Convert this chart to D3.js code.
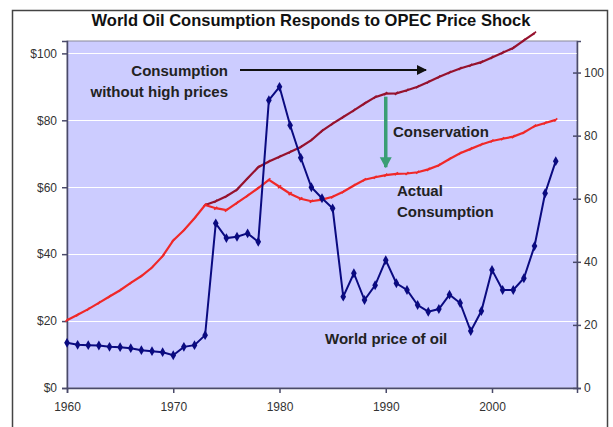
<!DOCTYPE html>
<html>
<head>
<meta charset="utf-8">
<script src="https://cdn.jsdelivr.net/npm/d3@7"></script>
<style>
    body { margin: 0; background: #fff; }
    svg { display: block; font-family: Arial, "Liberation Sans", sans-serif; }
</style>
</head>
<body>
<svg id="chart" width="613" height="427"></svg>
<script>
// world oil price, $ per barrel (left axis)
var priceYears = d3.range(1960, 2007);
var price = [13.5, 12.9, 12.8, 12.7, 12.3, 12.2, 11.9, 11.3, 11.0, 10.7,
    9.8, 12.3, 12.8, 15.8, 49.2, 44.8, 45.2, 46.2, 43.7, 86.0,
    90.0, 78.5, 68.8, 60.0, 56.7, 53.7, 27.3, 34.3, 26.3, 30.7,
    38.2, 31.3, 29.3, 24.8, 22.8, 23.6, 27.9, 25.4, 17.0, 23.0,
    35.3, 29.3, 29.3, 32.8, 42.4, 58.2, 67.8];

// actual consumption, million barrels/day (right axis)
var actualYears = d3.range(1960, 2007);
var actual = [21.5, 23.2, 25.0, 27.0, 29.0, 31.0, 33.3, 35.5, 38.2, 41.8,
    46.8, 50.0, 53.8, 58.0, 57.0, 56.4, 58.7, 61.0, 63.4, 66.0,
    63.8, 61.6, 60.0, 59.2, 59.7, 60.6, 62.2, 64.2, 66.0, 66.8,
    67.5, 67.9, 68.0, 68.4, 69.3, 70.6, 72.6, 74.4, 75.8, 77.2,
    78.3, 79.0, 79.7, 81.0, 83.0, 84.0, 85.0];

// consumption without high prices (right axis)
var noShockYears = d3.range(1973, 2005);
var noShock = [58.0, 59.2, 60.8, 62.9, 66.5, 70.0, 71.8, 73.3, 74.8, 76.4,
    78.6, 81.5, 83.8, 85.9, 88.0, 90.2, 92.2, 93.3, 93.4, 94.4,
    95.5, 97.0, 98.6, 100.0, 101.3, 102.3, 103.3, 104.8, 106.3, 107.8,
    110.2, 112.5];

var yearTicks = [1960, 1970, 1980, 1990, 2000];
var leftTicks = [0, 20, 40, 60, 80, 100];
var rightTicks = [0, 20, 40, 60, 80, 100];

var svg = d3.select("#chart"),
    MARGINS = { top: 41, right: 36, bottom: 39, left: 67 },
    WIDTH = 613,
    HEIGHT = 427;

var x = d3.scaleLinear().domain([1960, 2008]).range([MARGINS.left, WIDTH - MARGINS.right]);
var yLeft = d3.scaleLinear().domain([0, 103.7]).range([HEIGHT - MARGINS.bottom, MARGINS.top]);
var yRight = d3.scaleLinear().domain([0, 110]).range([HEIGHT - MARGINS.bottom, MARGINS.top]);

// outer frame
svg.append("rect")
    .attr("x", 12.5).attr("y", 10.5)
    .attr("width", 595).attr("height", 430)
    .attr("fill", "none").attr("stroke", "#444").attr("stroke-width", 1.5);

// title
svg.append("text")
    .attr("x", 311).attr("y", 26)
    .attr("text-anchor", "middle")
    .attr("font-size", 16.5).attr("font-weight", "bold").attr("fill", "#111")
    .text("World Oil Consumption Responds to OPEC Price Shock");

// plot background
svg.append("rect")
    .attr("x", x(1960)).attr("y", MARGINS.top)
    .attr("width", x(2008) - x(1960)).attr("height", yLeft(0) - MARGINS.top)
    .attr("fill", "#ccccff").attr("stroke", "#8a8a9a").attr("stroke-width", 1);

// gridlines
svg.append("g")
    .selectAll("line")
    .data(leftTicks.slice(1))
    .join("line")
    .attr("x1", x(1960)).attr("x2", x(2008))
    .attr("y1", function(d) { return Math.round(yLeft(d)) + 0.5; })
    .attr("y2", function(d) { return Math.round(yLeft(d)) + 0.5; })
    .attr("stroke", "#fff").attr("stroke-width", 1.2);

// axes
var xAxis = svg.append("g")
    .attr("transform", "translate(0," + yLeft(0) + ")")
    .call(d3.axisBottom(x).tickValues(yearTicks).tickFormat(d3.format("d")).tickSize(5).tickPadding(9));
var leftAxis = svg.append("g")
    .attr("transform", "translate(" + x(1960) + ",0)")
    .call(d3.axisLeft(yLeft).tickValues(leftTicks).tickFormat(function(d) { return "$" + d; }).tickSize(5).tickPadding(5));
var rightAxis = svg.append("g")
    .attr("transform", "translate(" + x(2008) + ",0)")
    .call(d3.axisRight(yRight).tickValues(rightTicks).tickSize(4).tickPadding(3));
rightAxis.selectAll(".tick line").attr("x1", -4);
[xAxis, leftAxis, rightAxis].forEach(function(a) {
    a.attr("font-size", 12).attr("font-family", "Arial, 'Liberation Sans', sans-serif");
    a.selectAll(".tick text").attr("fill", "#333");
    a.select(".domain").attr("stroke", "#4a4a6a").attr("stroke-width", 1.5);
    a.selectAll(".tick line").attr("stroke", "#4a4a6a").attr("stroke-width", 1.5);
});

// lines
var lineLeft = d3.line()
    .x(function(d) { return x(d[0]); })
    .y(function(d) { return yLeft(d[1]); });
var lineRight = d3.line()
    .x(function(d) { return x(d[0]); })
    .y(function(d) { return yRight(d[1]); });

var actualData = d3.zip(actualYears, actual);
var noShockData = d3.zip(noShockYears, noShock);
var priceData = d3.zip(priceYears, price);

function redSeries(data, color) {
    svg.append("path")
        .attr("d", lineRight(data))
        .attr("fill", "none").attr("stroke", color).attr("stroke-width", 2.2);
    svg.append("g")
        .selectAll("line")
        .data(data)
        .join("line")
        .attr("x1", function(d) { return x(d[0]) - 1.5; })
        .attr("x2", function(d) { return x(d[0]) + 1.5; })
        .attr("y1", function(d) { return yRight(d[1]) + 1.5; })
        .attr("y2", function(d) { return yRight(d[1]) - 1.5; })
        .attr("stroke", color).attr("stroke-width", 1.6);
}
redSeries(noShockData, "#96122e");
redSeries(actualData, "#f02828");

svg.append("path")
    .attr("d", lineLeft(priceData))
    .attr("fill", "none").attr("stroke", "#0a0a80").attr("stroke-width", 2);
svg.append("g")
    .selectAll("path")
    .data(priceData)
    .join("path")
    .attr("transform", function(d) { return "translate(" + x(d[0]) + "," + yLeft(d[1]) + ")"; })
    .attr("d", d3.symbol(d3.symbolDiamond, 28))
    .attr("fill", "#0a0a80");

// annotations
svg.append("defs").append("marker")
    .attr("id", "arrow")
    .attr("viewBox", "0 0 10 10")
    .attr("refX", 9).attr("refY", 5)
    .attr("markerWidth", 5).attr("markerHeight", 5)
    .attr("markerUnits", "strokeWidth")
    .attr("orient", "auto")
    .append("path").attr("d", "M0,0L10,5L0,10z").attr("fill", "#111");

svg.append("line")
    .attr("x1", 240).attr("y1", 70).attr("x2", 426).attr("y2", 70)
    .attr("stroke", "#111").attr("stroke-width", 2)
    .attr("marker-end", "url(#arrow)");

var green = "#3a9e74";
svg.append("line")
    .attr("x1", x(1990)).attr("y1", yRight(93.3) + 3)
    .attr("x2", x(1990)).attr("y2", yRight(70))
    .attr("stroke", green).attr("stroke-width", 3.5);
svg.append("path")
    .attr("d", "M" + (x(1990) - 6) + "," + (yRight(70) - 10) + "L" + (x(1990) + 6) + "," + (yRight(70) - 10) + "L" + x(1990) + "," + (yRight(70) + 1) + "z")
    .attr("fill", green);

function label(tx, ty, s, anchor) {
    svg.append("text")
        .attr("x", tx).attr("y", ty)
        .attr("text-anchor", anchor || "start")
        .attr("font-size", 15).attr("font-weight", "bold").attr("fill", "#222")
        .text(s);
}
label(228, 76, "Consumption", "end");
label(228, 97, "without high prices", "end");
label(393, 137, "Conservation");
label(397, 196, "Actual");
label(397, 217, "Consumption");
label(325, 344, "World price of oil");
</script>
</body>
</html>
